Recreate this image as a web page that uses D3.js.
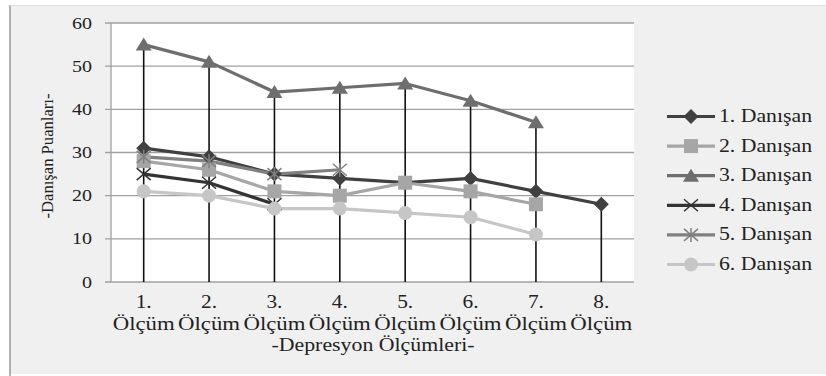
<!DOCTYPE html>
<html><head><meta charset="utf-8">
<script src="https://cdn.jsdelivr.net/npm/d3@7"></script>
<style>body{margin:0;background:#fff}svg{display:block}text{font-family:"Liberation Serif","DejaVu Serif",serif;fill:#222}</style>
</head><body>
<svg id="c" width="826" height="376"></svg>
<script>
const categories = ["1. Ölçüm","2. Ölçüm","3. Ölçüm","4. Ölçüm","5. Ölçüm","6. Ölçüm","7. Ölçüm","8. Ölçüm"];
const seriesNames = ["1. Danışan","2. Danışan","3. Danışan","4. Danışan","5. Danışan","6. Danışan"];
const s1 = [31,29,25,24,23,24,21,18];
const s2 = [28,26,21,20,23,21,18];
const s3 = [55,51,44,45,46,42,37];
const s4 = [25,23,18];
const s5 = [29,28,25,26];
const s6 = [21,20,17,17,16,15,11];
const yTicks = [0,10,20,30,40,50,60];
const yTitle = "-Danışan Puanları-";
const xTitle = "-Depresyon Ölçümleri-";

const series = [
  {name:seriesNames[0], values:s1, color:"#404040", marker:"diamond"},
  {name:seriesNames[1], values:s2, color:"#a6a6a6", marker:"square"},
  {name:seriesNames[2], values:s3, color:"#6e6e6e", marker:"triangle"},
  {name:seriesNames[3], values:s4, color:"#333333", marker:"x"},
  {name:seriesNames[4], values:s5, color:"#808080", marker:"star"},
  {name:seriesNames[5], values:s6, color:"#c6c6c6", marker:"circle"}
];

const svg = d3.select("#c");
svg.append("rect").attr("x",10).attr("y",5).attr("width",816).attr("height",369).attr("fill","#f0f0f0");
svg.append("line").attr("x1",10).attr("x2",10).attr("y1",5).attr("y2",376).attr("stroke","#9a9a9a").attr("stroke-width",1.5);
svg.append("line").attr("x1",10).attr("x2",826).attr("y1",5.5).attr("y2",5.5).attr("stroke","#e0e0e0");

const L=111, R=634, T=23, B=282;
const x = d3.scaleBand().domain(categories).range([L,R]);
const y = d3.scaleLinear().domain([0,60]).range([B,T]);
const cx = i => x(categories[i]) + x.bandwidth()/2;

svg.append("rect").attr("x",L).attr("y",T).attr("width",R-L).attr("height",B-T).attr("fill","#fff");

// grid
svg.append("g").selectAll("line").data(yTicks).join("line")
  .attr("x1",L-6).attr("x2",R).attr("y1",d=>y(d)).attr("y2",d=>y(d))
  .attr("stroke","#a0a0a0").attr("stroke-width",1.3);
svg.append("line").attr("x1",L).attr("x2",L).attr("y1",T).attr("y2",B).attr("stroke","#a0a0a0").attr("stroke-width",1.3);

// y tick labels
svg.append("g").selectAll("text").data(yTicks).join("text")
  .attr("x",92).attr("y",d=>y(d)+5.5).attr("text-anchor","end").attr("font-size",17)
  .attr("textLength",d=>String(d).length*10).attr("lengthAdjust","spacingAndGlyphs").text(d=>d);

// drop lines
const maxes = categories.map((c,i)=>d3.max(series, s=>s.values[i]));
svg.append("g").selectAll("line").data(maxes).join("line")
  .attr("x1",(d,i)=>cx(i)).attr("x2",(d,i)=>cx(i)).attr("y1",d=>y(d)).attr("y2",y(0))
  .attr("stroke","#111").attr("stroke-width",1.6);

// lines
const line = d3.line().x((d,i)=>cx(i)).y(d=>y(d));
series.forEach(s=>{
  svg.append("path").attr("d",line(s.values)).attr("fill","none")
    .attr("stroke",s.color).attr("stroke-width",3.2).attr("stroke-linejoin","round");
});

function drawMarker(g, type, px, py, color){
  if(type==="diamond"){
    g.append("path").attr("d",`M${px},${py-7.5}L${px+7.5},${py}L${px},${py+7.5}L${px-7.5},${py}Z`).attr("fill",color);
  } else if(type==="square"){
    g.append("rect").attr("x",px-7).attr("y",py-7).attr("width",14).attr("height",14).attr("fill",color);
  } else if(type==="triangle"){
    g.append("path").attr("d",`M${px},${py-7}L${px+8},${py+6}L${px-8},${py+6}Z`).attr("fill",color);
  } else if(type==="x"){
    g.append("path").attr("d",`M${px-7},${py-6}L${px+7},${py+6}M${px-7},${py+6}L${px+7},${py-6}`).attr("stroke",color).attr("stroke-width",1.5);
  } else if(type==="star"){
    g.append("path").attr("d",`M${px-7},${py-6}L${px+7},${py+6}M${px-7},${py+6}L${px+7},${py-6}M${px},${py-7}L${px},${py+7}`).attr("stroke",color).attr("stroke-width",1.5);
  } else if(type==="circle"){
    g.append("circle").attr("cx",px).attr("cy",py).attr("r",7).attr("fill",color);
  }
}
series.forEach(s=>{
  const g = svg.append("g");
  s.values.forEach((v,i)=>drawMarker(g, s.marker, cx(i), y(v), s.color));
});

// x labels
const xl = svg.append("g");
categories.forEach((c,i)=>{
  const parts = c.split(" ");
  xl.append("text").attr("x",cx(i)).attr("y",308).attr("text-anchor","middle").attr("font-size",18)
    .attr("textLength",16).attr("lengthAdjust","spacingAndGlyphs").text(parts[0]);
  xl.append("text").attr("x",cx(i)).attr("y",330).attr("text-anchor","middle").attr("font-size",18)
    .attr("textLength",62).attr("lengthAdjust","spacingAndGlyphs").text(parts[1]);
});
svg.append("text").attr("x",373).attr("y",351).attr("text-anchor","middle").attr("font-size",18)
  .attr("textLength",203).attr("lengthAdjust","spacingAndGlyphs").text(xTitle);
svg.append("text").attr("transform","translate(53,156) rotate(-90)").attr("text-anchor","middle").attr("font-size",16)
  .attr("textLength",125).attr("lengthAdjust","spacingAndGlyphs").text(yTitle);

// legend
const lg = svg.append("g");
series.forEach((s,i)=>{
  const ly = 116.5 + i*29.6;
  lg.append("line").attr("x1",667).attr("x2",715).attr("y1",ly).attr("y2",ly).attr("stroke",s.color).attr("stroke-width",3.2);
  drawMarker(lg, s.marker, 691, ly, s.color);
  lg.append("text").attr("x",719).attr("y",ly+5.5).attr("font-size",18)
    .attr("textLength",93).attr("lengthAdjust","spacingAndGlyphs").text(s.name);
});
</script>
</body></html>
